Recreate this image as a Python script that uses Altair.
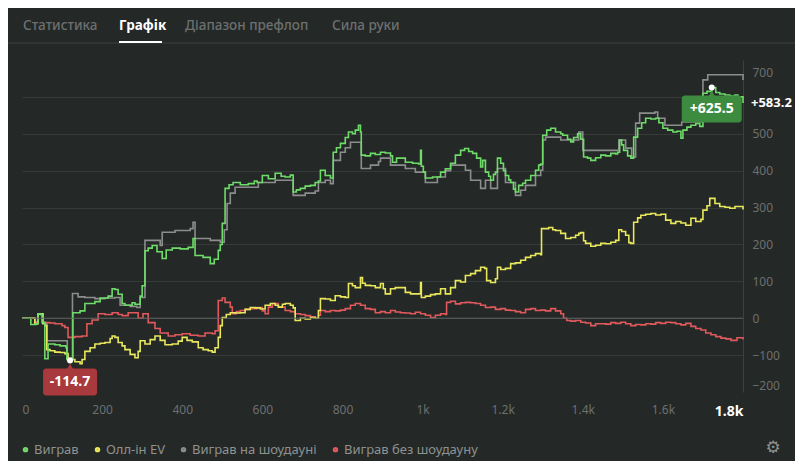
import altair as alt
import pandas as pd

# ---------------- data ----------------
SERIES = ["Виграв", "Олл-ін EV", "Виграв на шоудауні", "Виграв без шоудауну"]
COLORS = ["#6fdc6a", "#e9e85c", "#8c8d8d", "#e0595c"]

# (hand, value) pairs
won = [(0, 0), (20, 0), (22, -17), (35, -15), (40, 12), (47, 10), (50, -12), (55, -12), (57, -110), (62, -110),
       (65, -70), (82, -72), (95, -75), (110, -80), (112, -112), (120, -114.7), (125, -112), (127, 15), (145, 20),
       (157, 40), (182, 45), (195, 55), (215, 60), (225, 80), (232, 78), (240, 65), (250, 40), (257, 35), (275, 42),
       (282, 38), (295, 60), (300, 88), (307, 183), (315, 190), (325, 197), (337, 180), (350, 162), (360, 185),
       (375, 190), (395, 188), (415, 192), (427, 216), (432, 170), (452, 165), (470, 148), (480, 160), (490, 184),
       (495, 200), (500, 257), (507, 352), (517, 362), (527, 368), (545, 362), (565, 365), (580, 372), (587, 368),
       (600, 387), (615, 378), (632, 393), (647, 385), (657, 383), (670, 388), (677, 342), (685, 348), (695, 352),
       (707, 358), (720, 360), (732, 368), (740, 372), (745, 401), (757, 387), (770, 380), (777, 450), (785, 462),
       (795, 474), (807, 490), (815, 505), (825, 500), (832, 510), (840, 523), (845, 505), (847, 442), (857, 440),
       (870, 447), (882, 444), (895, 450), (907, 448), (920, 440), (925, 423), (935, 434), (945, 434), (957, 423),
       (975, 420), (990, 418), (995, 455), (997, 412), (1002, 396), (1007, 380), (1025, 383), (1037, 383),
       (1045, 396), (1057, 405), (1070, 420), (1082, 442), (1095, 455), (1105, 460), (1115, 452), (1125, 447),
       (1135, 434), (1145, 410), (1150, 428), (1157, 396), (1165, 385), (1170, 374), (1177, 390), (1182, 396),
       (1187, 434), (1195, 420), (1202, 400), (1207, 387), (1215, 375), (1220, 368), (1227, 350), (1232, 342),
       (1240, 360), (1250, 366), (1257, 374), (1270, 387), (1282, 401), (1290, 415), (1295, 418), (1300, 496),
       (1310, 510), (1320, 515), (1332, 505), (1345, 500), (1350, 496), (1362, 485), (1370, 478), (1377, 490),
       (1387, 500), (1395, 485), (1402, 437), (1412, 434), (1420, 428), (1432, 435), (1445, 442), (1457, 440),
       (1470, 447), (1482, 445), (1487, 450), (1492, 483), (1497, 470), (1502, 455), (1512, 440), (1520, 434),
       (1527, 491), (1537, 515), (1547, 530), (1557, 542), (1570, 540), (1582, 542), (1590, 530), (1600, 515),
       (1612, 510), (1625, 505), (1635, 507), (1645, 488), (1650, 510), (1660, 518), (1670, 523), (1682, 528),
       (1692, 520), (1700, 610), (1710, 615), (1722, 625.5), (1732, 612), (1742, 608), (1755, 605), (1767, 602),
       (1780, 605), (1787, 600), (1800, 583.2)]

allin_ev = [(0, 0), (20, 0), (32, -15), (40, 12), (52, -15), (57, -20), (62, -85), (70, -88), (82, -92), (95, -93),
            (107, -96), (115, -110), (125, -112), (132, -118), (145, -123), (150, -112), (157, -90), (170, -80),
            (182, -70), (195, -68), (207, -66), (220, -55), (225, -48), (232, -52), (240, -66), (250, -75), (257, -85),
            (270, -98), (282, -107), (290, -90), (295, -61), (307, -70), (320, -58), (332, -48), (345, -60),
            (357, -72), (375, -70), (390, -62), (400, -52), (412, -60), (425, -64), (440, -80), (452, -85), (465, -88),
            (475, -92), (482, -80), (490, -52), (495, -20), (500, 2), (510, 10), (520, 15), (532, 14), (545, 15),
            (557, 24), (570, 29), (582, 28), (595, 25), (607, 35), (620, 40), (632, 35), (640, 30), (650, 38),
            (657, 40), (670, 35), (677, 28), (682, -6), (695, 0), (707, -2), (720, 2), (732, 0), (740, 21), (745, 53),
            (757, 52), (770, 48), (782, 61), (795, 58), (807, 56), (815, 94), (825, 88), (832, 83), (845, 110),
            (850, 95), (857, 89), (870, 88), (882, 83), (895, 94), (902, 80), (907, 66), (920, 80), (932, 83),
            (945, 83), (957, 70), (970, 66), (982, 66), (995, 97), (997, 56), (1007, 60), (1020, 64), (1032, 66),
            (1045, 80), (1057, 66), (1070, 83), (1082, 102), (1095, 98), (1107, 116), (1120, 121), (1132, 129),
            (1145, 138), (1155, 135), (1160, 102), (1170, 97), (1182, 107), (1187, 138), (1195, 132), (1207, 135),
            (1220, 148), (1232, 150), (1245, 157), (1257, 165), (1270, 170), (1282, 175), (1295, 172), (1297, 243),
            (1315, 246), (1325, 240), (1332, 238), (1345, 230), (1357, 216), (1370, 219), (1382, 225), (1390, 230),
            (1395, 232), (1402, 210), (1407, 203), (1420, 195), (1432, 198), (1445, 203), (1457, 202), (1470, 206),
            (1482, 211), (1490, 240), (1497, 235), (1507, 225), (1515, 205), (1520, 203), (1527, 260), (1537, 272),
            (1545, 279), (1557, 282), (1570, 284), (1582, 280), (1595, 282), (1607, 266), (1620, 257), (1632, 262),
            (1645, 258), (1657, 252), (1670, 271), (1682, 262), (1695, 268), (1700, 293), (1710, 305), (1717, 325),
            (1730, 311), (1742, 303), (1755, 301), (1767, 298), (1780, 303), (1800, 295)]

showdown = [(0, 0), (20, 0), (32, -10), (40, 10), (52, -12), (60, -15), (62, -61), (112, -61), (113, -107),
            (125, -107), (126, 67), (140, 58), (157, 56), (182, 53), (207, 55), (232, 56), (245, 35), (270, 32),
            (287, 29), (295, 56), (307, 211), (332, 211), (345, 197), (350, 233), (382, 238), (420, 243), (427, 260),
            (432, 216), (470, 211), (495, 206), (505, 240), (512, 311), (520, 339), (532, 355), (570, 355),
            (590, 368), (620, 368), (632, 374), (670, 374), (677, 333), (707, 339), (732, 345), (740, 368),
            (757, 374), (770, 365), (777, 428), (795, 450), (807, 462), (820, 477), (845, 477), (847, 406),
            (870, 415), (890, 425), (895, 434), (915, 434), (920, 415), (957, 406), (982, 396), (1007, 368),
            (1037, 383), (1057, 400), (1070, 415), (1107, 401), (1120, 374), (1145, 352), (1157, 374), (1170, 352),
            (1187, 406), (1207, 368), (1232, 333), (1245, 347), (1257, 360), (1282, 387), (1295, 401), (1300, 483),
            (1307, 491), (1345, 483), (1382, 483), (1390, 505), (1400, 455), (1470, 455), (1490, 483), (1507, 461),
            (1522, 437), (1532, 529), (1542, 556), (1580, 559), (1587, 542), (1605, 523), (1642, 523), (1647, 532),
            (1692, 532), (1700, 646), (1712, 660), (1792, 660), (1800, 646)]

no_showdown = [(0, 0), (20, 0), (32, -12), (40, 12), (52, -12), (70, -13), (82, -15), (100, -20), (107, -25),
               (115, -52), (132, -50), (150, -48), (162, -15), (175, -5), (190, 12), (207, 10), (225, 15), (240, 10),
               (250, 7), (265, 15), (275, 15), (290, 0), (302, 12), (315, -12), (332, -28), (345, -40), (365, -48),
               (382, -45), (400, -42), (420, -46), (440, -48), (457, -40), (475, -42), (482, -34), (490, 48),
               (500, 55), (507, 43), (520, 30), (525, 12), (535, 18), (545, 21), (557, 24), (570, 26), (587, 29),
               (600, 20), (607, 12), (615, 30), (625, 40), (640, 30), (657, 21), (670, 18), (682, 12), (695, 10),
               (707, 7), (720, 4), (732, 0), (740, 8), (745, 21), (757, 18), (770, 21), (782, 20), (795, 22),
               (807, 26), (820, 35), (832, 40), (845, 35), (857, 26), (870, 24), (882, 15), (895, 18), (907, 15),
               (920, 21), (932, 17), (945, 15), (957, 14), (970, 12), (982, 16), (995, 12), (1007, 8), (1020, 2),
               (1032, 8), (1045, 12), (1057, 10), (1060, 43), (1070, 46), (1082, 39), (1095, 42), (1107, 43),
               (1120, 42), (1132, 40), (1145, 35), (1157, 29), (1170, 30), (1182, 24), (1195, 26), (1207, 22),
               (1220, 21), (1232, 18), (1245, 15), (1257, 24), (1270, 26), (1282, 21), (1295, 22), (1307, 20),
               (1320, 26), (1332, 20), (1345, 12), (1352, 0), (1360, -6), (1370, -8), (1382, -6), (1395, -11),
               (1407, -13), (1420, -20), (1432, -15), (1445, -15), (1457, -16), (1470, -12), (1482, -14),
               (1495, -11), (1507, -15), (1520, -20), (1532, -17), (1545, -18), (1557, -15), (1570, -16),
               (1582, -12), (1595, -14), (1607, -11), (1620, -12), (1632, -15), (1645, -18), (1657, -14),
               (1670, -22), (1682, -28), (1695, -32), (1707, -40), (1720, -45), (1732, -50), (1745, -54),
               (1757, -56), (1770, -60), (1785, -53), (1800, -58)]

ann_hands = [120, 1722]
ann_vals = [-114.7, 625.5]
ann_labels = ["-114.7", "+625.5"]
ann_colors = ["#a8393c", "#3c8b3e"]

end_hand = [1800]
end_val = [583.2]
end_label = ["+583.2"]

x_ticks = [0, 200, 400, 600, 800, 1000, 1200, 1400, 1600, 1800]
y_ticks = [-200, -100, 0, 100, 200, 300, 400, 500, 600, 700]

tabs = ["Статистика", "Графік", "Діапазон префлоп", "Сила руки"]

# ---------------- frames ----------------
frames = []
for name, pairs in [(SERIES[0], won), (SERIES[1], allin_ev), (SERIES[2], showdown), (SERIES[3], no_showdown)]:
    frames.append(pd.DataFrame({"hand": [p[0] for p in pairs], "value": [p[1] for p in pairs], "series": name}))
df = pd.concat(frames, ignore_index=True)

ann = pd.DataFrame({"hand": ann_hands, "value": ann_vals, "label": ann_labels, "col": ann_colors})
endf = pd.DataFrame({"hand": end_hand, "value": end_val, "label": end_label})

BG = "#242827"
FONT = "Noto Sans"

xscale = alt.Scale(domain=[0, 1800], nice=False, zero=False)
yscale = alt.Scale(domain=[-200, 700], nice=False, zero=False)

x_axis = alt.Axis(
    values=x_ticks, title=None, grid=False, ticks=False, domain=False, labelOverlap=False,
    labelExpr="datum.value >= 1000 ? format(datum.value / 1000, '~g') + 'k' : format(datum.value, 'd')",
    labelPadding=12,
    labelColor={"condition": {"test": "datum.value === 1800", "value": "#ffffff"}, "value": "#6c706f"},
    labelFontSize={"condition": {"test": "datum.value === 1800", "value": 14}, "value": 12},
    labelFontWeight={"condition": {"test": "datum.value === 1800", "value": "bold"}, "value": "normal"},
    labelFont=FONT,
)
y_axis = alt.Axis(
    orient="right", values=y_ticks, title=None, ticks=False, domain=True, labelOverlap=False,
    domainColor="#3c4140", domainWidth=1,
    grid=True, gridColor="#363b3a", gridWidth=1,
    gridOpacity={"condition": {"test": "datum.value === 700 || datum.value === -200", "value": 0}, "value": 1},
    labelExpr="datum.value === 600 ? '' : datum.label",
    labelOffset={"condition": {"test": "datum.value === 700", "value": 12}, "value": 0},
    labelBaseline={"condition": {"test": "datum.value === -200", "value": "bottom"}, "value": "middle"},
    labelPadding=9, labelColor="#6c706f", labelFontSize=12, labelFont=FONT, labelAlign="left",
)

X = alt.X("hand:Q", scale=xscale, axis=x_axis)
Y = alt.Y("value:Q", scale=yscale, axis=y_axis)

color = alt.Color("series:N", scale=alt.Scale(domain=SERIES, range=COLORS),
                  legend=alt.Legend(title=None, orient="none", legendX=-3, legendY=383, direction="horizontal",
                                    symbolType="circle", symbolSize=6, symbolStrokeWidth=3,
                                    labelColor="#8e9291", labelFontSize=13, labelFont=FONT,
                                    labelOffset=2, columnPadding=11))

base = alt.Chart(df)
line_layers = []
for s in [SERIES[2], SERIES[3], SERIES[1], SERIES[0]]:
    line_layers.append(
        base.transform_filter(alt.datum.series == s).mark_line(strokeWidth=1.6, interpolate="step-after").encode(
            x=X, y=Y, color=color)
    )

zero_rule = alt.Chart(pd.DataFrame({"value": [0]})).mark_rule(color="#5c605f", strokeWidth=1).encode(y=Y)

# tabs
tab_x = [1, 97, 163, 310]
tab_layers = []
for t, tx in zip(tabs, tab_x):
    active = t == "Графік"
    tab_layers.append(
        alt.Chart(pd.DataFrame({"t": [t]})).mark_text(
            align="left", baseline="middle", font=FONT, fontSize=13.5,
            fontWeight="bold" if active else 500,
            color="#ffffff" if active else "#6c706f",
        ).encode(text="t:N", x=alt.value(tx), y=alt.value(-34))
    )
tab_line = alt.Chart(pd.DataFrame({"a": [0]})).mark_rule(color="#3c4140", strokeWidth=1).encode(
    x=alt.value(-14), x2=alt.value(773), y=alt.value(-17))
tab_under = alt.Chart(pd.DataFrame({"a": [0]})).mark_rule(color="#ffffff", strokeWidth=2).encode(
    x=alt.value(97), x2=alt.value(140), y=alt.value(-18))

gear = alt.Chart(pd.DataFrame({"t": ["⚙"]})).mark_text(
    font="DejaVu Sans", fontSize=17, color="#8e9291", align="center", baseline="middle"
).encode(text="t:N", x=alt.value(751), y=alt.value(388))

# annotations
ann_layers = []
half_w = [27, 30]
for i in range(len(ann_hands)):
    d = ann.iloc[[i]]
    c = ann_colors[i]
    hw = half_w[i]
    ch = alt.Chart(d)
    ann_layers.append(ch.mark_rect(color=c, cornerRadius=3, xOffset=-hw, x2Offset=hw, yOffset=8, y2Offset=35).encode(
        x=X, x2="hand:Q", y=Y, y2="value:Q"))
    ann_layers.append(ch.mark_point(shape="triangle-up", filled=True, color=c, size=45, opacity=1, yOffset=6).encode(
        x=X, y=Y))
    ann_layers.append(ch.mark_text(color="#ffffff", fontWeight="bold", fontSize=14, font=FONT, yOffset=21.5,
                                   baseline="middle", align="center").encode(x=X, y=Y, text="label:N"))
    ann_layers.append(ch.mark_circle(color="#ffffff", size=36, opacity=1).encode(x=X, y=Y))

end_text = alt.Chart(endf).mark_text(color="#ffffff", fontWeight="bold", fontSize=13, font=FONT, align="left",
                                     baseline="middle", dx=8).encode(x=X, y=Y, text="label:N")

chart = alt.layer(
    *line_layers, zero_rule, *ann_layers, end_text, *tab_layers, tab_line, tab_under, gear
).properties(
    width=721, height=332,
    autosize=alt.AutoSizeParams(type="none"),
    padding={"left": 14, "top": 52, "right": 52, "bottom": 69},
    background=BG,
).configure(font=FONT).configure_view(strokeWidth=0, stroke="transparent")

chart.save("out.html", embed_options={"renderer": "svg", "actions": False})
